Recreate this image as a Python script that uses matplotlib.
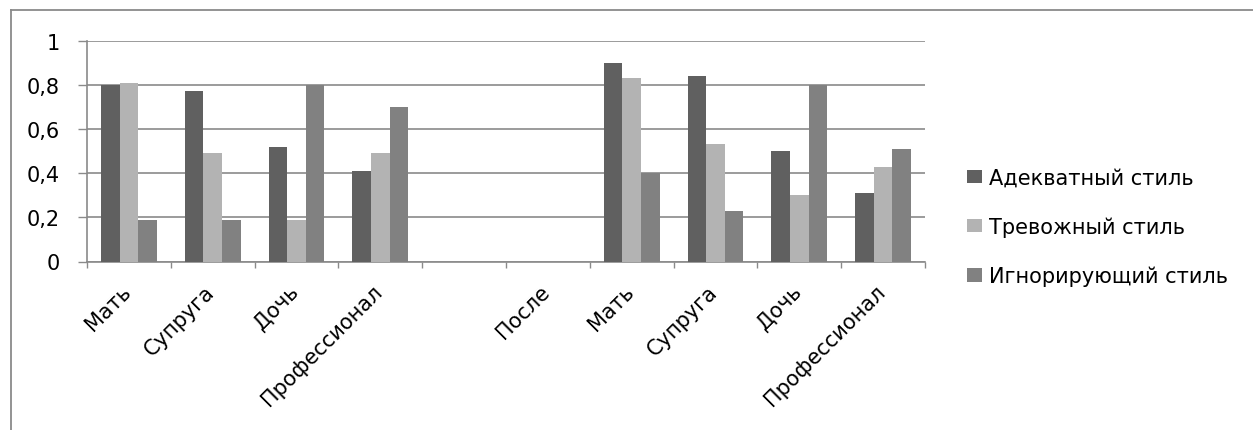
import numpy as np
import matplotlib
matplotlib.use("Agg")
import matplotlib.pyplot as plt
from matplotlib.lines import Line2D
from matplotlib.ticker import FixedLocator, FuncFormatter
import matplotlib.transforms as mtransforms

plt.rcParams['font.family'] = ['DejaVu Sans']

categories = ["Мать", "Супруга", "Дочь", "Профессионал", "", "После",
              "Мать", "Супруга", "Дочь", "Профессионал"]
adequate = [0.80, 0.77, 0.52, 0.41, np.nan, np.nan, 0.90, 0.84, 0.50, 0.31]
anxious = [0.81, 0.49, 0.19, 0.49, np.nan, np.nan, 0.83, 0.53, 0.30, 0.43]
ignoring = [0.19, 0.19, 0.80, 0.70, np.nan, np.nan, 0.40, 0.23, 0.80, 0.51]
series_names = ["Адекватный стиль", "Тревожный стиль", "Игнорирующий стиль"]
colors = ["#606060", "#b3b3b3", "#818181"]

W, H = 1253, 431
FS = 15
fig = plt.figure(figsize=(W / 100, H / 100), dpi=100)
ax = fig.add_axes([87 / W, (H - 262.5) / H, (925 - 87) / W, (262.5 - 41.7) / H])

x = np.arange(len(categories))
bw = 2 / 9
for i, (vals, c, name) in enumerate(zip([adequate, anxious, ignoring], colors, series_names)):
    ax.bar(x + (i - 1) * bw, vals, width=bw, color=c, label=name, zorder=3,
           edgecolor='none')

ax.set_xlim(-0.5, len(categories) - 0.5)
ax.set_ylim(0, 1)
ax.yaxis.set_major_locator(FixedLocator([0, 0.2, 0.4, 0.6, 0.8, 1.0]))
ax.yaxis.set_major_formatter(FuncFormatter(lambda v, p: ('%g' % v).replace('.', ',')))
ax.grid(axis='y', color='#8a8a8a', linewidth=1.2, zorder=0)
ax.set_axisbelow(True)

for s in ['top', 'right']:
    ax.spines[s].set_visible(False)
for s in ['left', 'bottom']:
    ax.spines[s].set_color('#8a8a8a')
    ax.spines[s].set_linewidth(1.2)

ax.tick_params(axis='y', length=6.5, width=1.0, color='#8a8a8a', labelsize=FS, pad=13,
               labelcolor='black')
ax.set_xticks(x)
ax.set_xticks(np.arange(-0.5, len(categories)), minor=True)
ax.tick_params(axis='x', which='major', length=0, pad=19)
ax.tick_params(axis='x', which='minor', length=4.5, width=1.0, color='#8a8a8a')
ax.set_xticklabels(categories, rotation=45, ha='right', rotation_mode='anchor',
                   va='center', fontsize=FS)
offset = mtransforms.ScaledTranslation(-1 / 100, 0, fig.dpi_scale_trans)
for lbl in ax.get_xticklabels():
    lbl.set_transform(lbl.get_transform() + offset)

# outer chart border (top and left visible)
fig.add_artist(Line2D([11 / W, 1], [(H - 11) / H, (H - 11) / H], color='#8a8a8a',
                      linewidth=1.3, transform=fig.transFigure))
fig.add_artist(Line2D([11 / W, 11 / W], [0, (H - 11) / H], color='#8a8a8a',
                      linewidth=1.3, transform=fig.transFigure))

leg = fig.legend(loc='center left', bbox_to_anchor=(967 / W, (H - 228) / H),
                 frameon=False, fontsize=FS, handlelength=0.72, handleheight=0.6,
                 handletextpad=0.33, labelspacing=1.38, borderpad=0, borderaxespad=0)

fig.savefig("out.png", dpi=100)
